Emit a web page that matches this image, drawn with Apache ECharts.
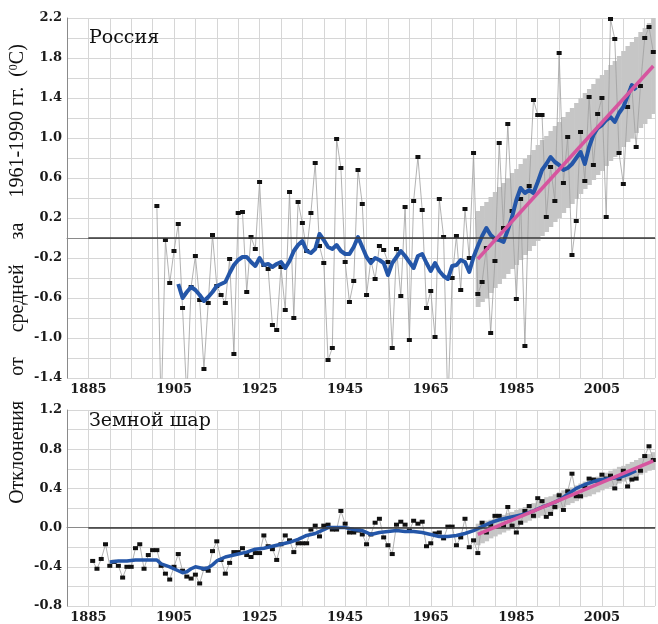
<!DOCTYPE html>
<html>
<head>
<meta charset="utf-8">
<title>Аномалии температуры: Россия и Земной шар</title>
<script src="https://cdn.jsdelivr.net/npm/echarts@6.0.0/dist/echarts.min.js"></script>
<style>
    html, body { margin: 0; padding: 0; background: #ffffff; }
    #main { width: 658px; height: 624px; }
</style>
</head>
<body>
<div id="main"></div>
<script>
// Россия: годовые аномалии с 1901 г.
var rusStart = 1901;
var rusAnnual = [
    0.32, -1.75, -0.02, -0.45, -0.13, 0.14, -0.70, -1.60, -0.49, -0.18,
    -0.62, -1.31, -0.65, 0.03, -0.48, -0.57, -0.65, -0.21, -1.16, 0.25,
    0.26, -0.54, 0.01, -0.11, 0.56, -0.27, -0.31, -0.87, -0.92, -0.29,
    -0.72, 0.46, -0.80, 0.36, 0.15, -0.13, 0.25, 0.75, -0.08, -0.25,
    -1.22, -1.10, 0.99, 0.70, -0.24, -0.64, -0.43, 0.68, 0.34, -0.57,
    -0.22, -0.41, -0.08, -0.12, -0.24, -1.10, -0.11, -0.58, 0.31, -1.02,
    0.37, 0.81, 0.28, -0.70, -0.53, -0.99, 0.39, 0.01, -1.70, -0.40,
    0.02, -0.52, 0.29, -0.20, 0.85, -0.56, -0.44, -0.10, -0.95, -0.23,
    0.95, 0.10, 1.14, 0.27, -0.61, 0.39, -1.08, 0.52, 1.38, 1.23,
    1.23, 0.21, 0.71, 0.37, 1.85, 0.55, 1.01, -0.17, 0.17, 1.06,
    0.57, 1.41, 0.73, 1.24, 1.40, 0.21, 2.19, 1.99, 0.85, 0.54,
    1.31, 1.50, 0.91, 1.52, 2.00, 2.11, 1.86
];
// сглаженный ряд (синяя линия)
var rusSmoothStart = 1906;
var rusSmooth = [
    -0.46, -0.60, -0.54, -0.49, -0.52, -0.57, -0.63, -0.59, -0.54, -0.48,
    -0.46, -0.44, -0.35, -0.27, -0.22, -0.19, -0.19, -0.24, -0.28, -0.20,
    -0.27, -0.26, -0.29, -0.26, -0.24, -0.30, -0.23, -0.13, -0.07, -0.03,
    -0.13, -0.15, -0.11, 0.04, -0.02, -0.09, -0.11, -0.07, -0.13, -0.16,
    -0.16, -0.09, 0.01, -0.09, -0.19, -0.25, -0.20, -0.22, -0.25, -0.37,
    -0.25, -0.19, -0.13, -0.18, -0.24, -0.30, -0.18, -0.16, -0.25, -0.33,
    -0.25, -0.33, -0.38, -0.41, -0.28, -0.27, -0.22, -0.24, -0.34, -0.19,
    -0.08, 0.02, 0.10, 0.03, -0.01, -0.02, -0.04, 0.08, 0.21, 0.38,
    0.50, 0.45, 0.48, 0.45, 0.56, 0.68, 0.74, 0.81, 0.76, 0.73,
    0.68, 0.70, 0.74, 0.80, 0.86, 0.74, 0.91, 1.03, 1.10, 1.13,
    1.18, 1.21, 1.16, 1.25, 1.31, 1.42, 1.53, 1.48
];
// линейный тренд 1976-2017 и его полоса
var rusTrendYears = [1976, 2017];
var rusTrendValues = [-0.21, 1.72];
var rusBandStart = 1976;
var rusBandLow = [
    -0.69, -0.64, -0.60, -0.55, -0.50, -0.46, -0.41, -0.36, -0.31, -0.27,
    -0.22, -0.17, -0.13, -0.08, -0.03, 0.02, 0.06, 0.11, 0.16, 0.20,
    0.25, 0.30, 0.34, 0.39, 0.44, 0.49, 0.53, 0.58, 0.63, 0.67,
    0.72, 0.77, 0.81, 0.86, 0.91, 0.96, 1.00, 1.05, 1.10, 1.14,
    1.19, 1.24
];
var rusBandHigh = [
    0.27, 0.32, 0.36, 0.41, 0.46, 0.51, 0.55, 0.60, 0.65, 0.69,
    0.74, 0.79, 0.83, 0.88, 0.93, 0.98, 1.02, 1.07, 1.12, 1.16,
    1.21, 1.26, 1.30, 1.35, 1.40, 1.45, 1.49, 1.54, 1.59, 1.63,
    1.68, 1.73, 1.77, 1.82, 1.87, 1.92, 1.96, 2.01, 2.06, 2.10,
    2.15, 2.20
];

// Земной шар: годовые аномалии с 1886 г.
var gloStart = 1886;
var gloAnnual = [
    -0.34, -0.42, -0.32, -0.17, -0.39, -0.35, -0.39, -0.51, -0.40, -0.40,
    -0.21, -0.17, -0.42, -0.28, -0.23, -0.23, -0.39, -0.47, -0.53, -0.40,
    -0.27, -0.44, -0.50, -0.52, -0.48, -0.57, -0.42, -0.44, -0.24, -0.14,
    -0.33, -0.47, -0.36, -0.25, -0.25, -0.21, -0.28, -0.30, -0.26, -0.26,
    -0.08, -0.19, -0.22, -0.33, -0.17, -0.08, -0.13, -0.25, -0.16, -0.16,
    -0.16, -0.02, 0.02, -0.09, 0.02, 0.03, -0.02, -0.02, 0.17, 0.04,
    -0.05, -0.05, -0.03, -0.07, -0.17, -0.07, 0.05, 0.09, -0.10, -0.18,
    -0.27, 0.03, 0.06, 0.03, -0.03, 0.07, 0.04, 0.06, -0.19, -0.16,
    -0.06, -0.05, -0.11, 0.01, 0.01, -0.18, -0.10, 0.09, -0.20, -0.13,
    -0.26, 0.05, -0.05, 0.03, 0.12, 0.12, 0.02, 0.21, 0.02, -0.05,
    0.05, 0.17, 0.22, 0.12, 0.30, 0.27, 0.11, 0.14, 0.21, 0.33,
    0.18, 0.37, 0.55, 0.32, 0.32, 0.42, 0.50, 0.49, 0.48, 0.54,
    0.50, 0.53, 0.40, 0.50, 0.58, 0.42, 0.49, 0.50, 0.58, 0.73,
    0.83, 0.69
];
var gloSmoothYears = [
    1890, 1892, 1894, 1896, 1898, 1900, 1901, 1902, 1904, 1906,
    1907, 1908, 1909, 1910, 1911, 1912, 1913, 1914, 1915, 1917,
    1919, 1920, 1922, 1924, 1926, 1928, 1930, 1932, 1934, 1936,
    1938, 1940, 1941, 1943, 1945, 1947, 1949, 1951, 1953, 1955,
    1957, 1959, 1961, 1963, 1965, 1967, 1969, 1971, 1973, 1975,
    1977, 1979, 1981, 1983, 1985, 1987, 1989, 1991, 1993, 1995,
    1997, 1999, 2001, 2003, 2005, 2007, 2009, 2011, 2013
];
var gloSmoothValues = [
    -0.35, -0.34, -0.34, -0.33, -0.33, -0.33, -0.33, -0.37, -0.40, -0.44,
    -0.46, -0.45, -0.42, -0.40, -0.41, -0.42, -0.41, -0.38, -0.34, -0.30,
    -0.28, -0.27, -0.25, -0.22, -0.21, -0.19, -0.17, -0.15, -0.12, -0.08,
    -0.06, -0.02, 0.00, 0.00, 0.00, -0.02, -0.03, -0.07, -0.05, -0.04,
    -0.03, -0.04, -0.04, -0.05, -0.07, -0.09, -0.09, -0.08, -0.06, -0.03,
    0.01, 0.05, 0.08, 0.10, 0.12, 0.14, 0.17, 0.21, 0.24, 0.28,
    0.34, 0.40, 0.44, 0.47, 0.49, 0.50, 0.51, 0.54, 0.58
];
var gloTrendYears = [1976, 2017];
var gloTrendValues = [-0.07, 0.68];
var gloBandStart = 1976;
var gloBandLow = [
    -0.18, -0.16, -0.14, -0.11, -0.09, -0.07, -0.05, -0.03, -0.01, 0.01,
    0.03, 0.05, 0.07, 0.09, 0.10, 0.12, 0.14, 0.16, 0.18, 0.20,
    0.21, 0.23, 0.25, 0.27, 0.29, 0.31, 0.32, 0.34, 0.36, 0.38,
    0.40, 0.41, 0.43, 0.45, 0.47, 0.49, 0.50, 0.52, 0.54, 0.56,
    0.58, 0.59
];
var gloBandHigh = [
    0.04, 0.05, 0.07, 0.08, 0.10, 0.11, 0.13, 0.15, 0.16, 0.18,
    0.20, 0.21, 0.23, 0.25, 0.27, 0.29, 0.31, 0.32, 0.34, 0.36,
    0.38, 0.40, 0.41, 0.43, 0.45, 0.47, 0.49, 0.51, 0.52, 0.54,
    0.56, 0.58, 0.60, 0.62, 0.63, 0.65, 0.67, 0.69, 0.71, 0.73,
    0.75, 0.77
];

// подписи осей
var yearLabels = [1885, 1905, 1925, 1945, 1965, 1985, 2005];
var rusYLabels = ['-1.4', '-1.0', '-0.6', '-0.2', '0.2', '0.6', '1.0', '1.4', '1.8', '2.2'];
var gloYLabels = ['-0.8', '-0.4', '0.0', '0.4', '0.8', '1.2'];

var xMin = 1880, xMax = 2017.4, zeroFrom = 1885;

function pairs(start, values) {
    return values.map(function (v, i) { return [start + i, v]; });
}
function zip(xs, ys) {
    return xs.map(function (x, i) { return [x, ys[i]]; });
}
function bandRows(start, low, high) {
    return low.map(function (v, i) { return [start + i, v, high[i]]; });
}

var labelFont = {fontFamily: 'DejaVu Serif', fontWeight: 'bold', fontSize: 13, color: '#1a1a1a'};
var gridColor = '#d6d6d6';

function xAxis(idx) {
    return {
        gridIndex: idx, type: 'value', min: xMin, max: xMax, interval: 5,
        axisLine: {show: true, lineStyle: {color: '#8a8a8a', width: 1}},
        axisTick: {show: false},
        splitLine: {show: true, lineStyle: {color: gridColor, width: 1}},
        axisLabel: Object.assign({
            margin: 5,
            formatter: function (v) { return yearLabels.indexOf(v) >= 0 ? String(v) : ''; }
        }, labelFont)
    };
}
function yAxis(idx, min, max, labels) {
    return {
        gridIndex: idx, type: 'value', min: min, max: max, interval: 0.2,
        axisLine: {show: true, lineStyle: {color: '#8a8a8a', width: 1}},
        axisTick: {show: false},
        splitLine: {show: true, lineStyle: {color: gridColor, width: 1}},
        axisLabel: Object.assign({
            margin: 5,
            formatter: function (v) {
                var s = (+v).toFixed(1);
                if (s === '-0.0') s = '0.0';
                return labels.indexOf(s) >= 0 ? s : '';
            }
        }, labelFont)
    };
}

// полоса вокруг тренда: по прямоугольнику на каждый год
function renderBand(params, api) {
    var year = api.value(0);
    var top = api.coord([year - 0.5, api.value(2)]);
    var bottom = api.coord([year + 0.5, api.value(1)]);
    var rect = echarts.graphic.clipRectByRect({
        x: top[0], y: top[1], width: bottom[0] - top[0] + 0.6, height: bottom[1] - top[1]
    }, {
        x: params.coordSys.x, y: params.coordSys.y,
        width: params.coordSys.width, height: params.coordSys.height
    });
    return rect && {type: 'rect', shape: rect, style: {fill: '#c6c6c6'}};
}

function panelSeries(idx, annual, smooth, trend, band, blueWidth) {
    return [
        {
            type: 'custom', xAxisIndex: idx, yAxisIndex: idx,
            renderItem: renderBand, encode: {x: 0, y: [1, 2]},
            data: band, z: 1, silent: true
        },
        {
            type: 'line', xAxisIndex: idx, yAxisIndex: idx,
            symbol: 'rect', symbolSize: [5, 4], showAllSymbol: true,
            itemStyle: {color: '#111111'},
            lineStyle: {color: '#a0a0a0', width: 0.8},
            data: annual, z: 3,
            markLine: {
                silent: true, symbol: 'none', label: {show: false},
                lineStyle: {color: '#3a3a3a', width: 1.5, type: 'solid'},
                data: [[{coord: [zeroFrom, 0]}, {coord: [xMax, 0]}]]
            }
        },
        {
            type: 'line', xAxisIndex: idx, yAxisIndex: idx, symbol: 'none',
            lineStyle: {color: '#2456a8', width: blueWidth, join: 'round'},
            data: smooth, z: 4
        },
        {
            type: 'line', xAxisIndex: idx, yAxisIndex: idx, symbol: 'none',
            lineStyle: {color: '#d6559f', width: 3.5},
            data: trend, z: 5
        }
    ];
}

var myChart = echarts.init(document.getElementById('main'), null, {renderer: 'canvas'});

var option = {
    animation: false,
    backgroundColor: '#ffffff',
    grid: [
        {left: 67, top: 18, width: 591, height: 360},
        {left: 67, top: 410, width: 591, height: 200}
    ],
    xAxis: [xAxis(0), xAxis(1)],
    yAxis: [yAxis(0, -1.4, 2.2, rusYLabels), yAxis(1, -0.8, 1.2, gloYLabels)],
    series: panelSeries(0, pairs(rusStart, rusAnnual), pairs(rusSmoothStart, rusSmooth),
        zip(rusTrendYears, rusTrendValues), bandRows(rusBandStart, rusBandLow, rusBandHigh), 4)
        .concat(panelSeries(1, pairs(gloStart, gloAnnual), zip(gloSmoothYears, gloSmoothValues),
            zip(gloTrendYears, gloTrendValues), bandRows(gloBandStart, gloBandLow, gloBandHigh), 3.5)),
    graphic: [
        {
            type: 'text', left: 89, top: 29, z: 10,
            style: {text: 'Россия', font: '19px "DejaVu Serif"', fill: '#111111'}
        },
        {
            type: 'text', left: 89, top: 412, z: 10,
            style: {text: 'Земной шар', font: '19px "DejaVu Serif"', fill: '#111111'}
        },
        {
            type: 'text', x: 18, y: 274, rotation: Math.PI / 2, z: 10,
            style: {
                text: 'Отклонения     от     средней     за     1961-1990 гг.  ({sup|0}C)',
                font: '20px "Liberation Serif"', fill: '#111111',
                align: 'center', verticalAlign: 'middle',
                rich: {sup: {fontSize: 12, fontFamily: 'Liberation Serif', verticalAlign: 'top', fill: '#111111'}}
            }
        }
    ]
};

myChart.setOption(option);
</script>
</body>
</html>
